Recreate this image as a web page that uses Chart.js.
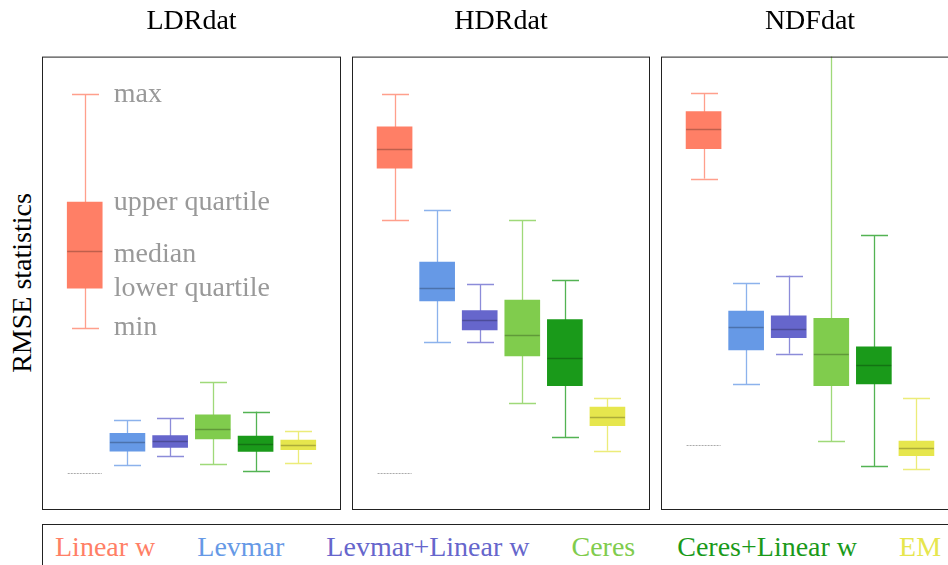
<!DOCTYPE html>
<html>
<head>
<meta charset="utf-8">
<script src="https://cdn.jsdelivr.net/npm/chart.js@4"></script>
<style>
body { margin: 0; width: 948px; height: 565px; overflow: hidden; background: #fff; position: relative; font-family: 'Liberation Serif', serif; }
.panel { position: absolute; top: 0; height: 510px; }
#ylabel { position: absolute; left: 22px; top: 283px; transform: translate(-50%, -50%) rotate(-90deg); font-size: 28px; white-space: nowrap; color: #000; }
#legend { position: absolute; left: 42px; top: 524px; width: 940px; height: 60px; border: 1px solid #222; box-sizing: border-box; display: flex; gap: 42px; padding: 6px 0 0 12px; font-size: 28px; line-height: 32px; white-space: nowrap; }
</style>
</head>
<body>
<div id="ylabel">RMSE statistics</div>
<div class="panel" style="left:42px;width:299px"><canvas id="c0"></canvas></div>
<div class="panel" style="left:352px;width:298px"><canvas id="c1"></canvas></div>
<div class="panel" style="left:661px;width:298px"><canvas id="c2"></canvas></div>
<div id="legend"></div>
<script>
// methods and colours
const methods = ['Linear w', 'Levmar', 'Levmar+Linear w', 'Ceres', 'Ceres+Linear w', 'EM'];
const colors = ['#ff7f66', '#6699e6', '#6666cc', '#80cc4d', '#1a9a1a', '#e6e64d'];
const panelNames = ['LDRdat', 'HDRdat', 'NDFdat'];
const annotationLabels = ['max', 'upper quartile', 'median', 'lower quartile', 'min'];

// LDRdat
const ldrMin = [0.402, 0.099, 0.118, 0.101, 0.086, 0.103];
const ldrQ1  = [0.489, 0.130, 0.138, 0.157, 0.129, 0.133];
const ldrMed = [0.571, 0.151, 0.153, 0.178, 0.146, 0.144];
const ldrQ3  = [0.679, 0.169, 0.164, 0.210, 0.163, 0.154];
const ldrMax = [0.917, 0.198, 0.202, 0.283, 0.217, 0.175];
// HDRdat
const hdrMin = [0.640, 0.371, 0.371, 0.236, 0.161, 0.131];
const hdrQ1  = [0.754, 0.461, 0.397, 0.340, 0.274, 0.186];
const hdrMed = [0.797, 0.489, 0.419, 0.386, 0.335, 0.205];
const hdrQ3  = [0.845, 0.547, 0.440, 0.463, 0.420, 0.227];
const hdrMax = [0.917, 0.661, 0.499, 0.640, 0.508, 0.247];
// NDFdat
const ndfMin = [0.731, 0.277, 0.345, 0.152, 0.097, 0.091];
const ndfQ1  = [0.797, 0.353, 0.380, 0.274, 0.278, 0.120];
const ndfMed = [0.841, 0.403, 0.400, 0.344, 0.319, 0.136];
const ndfQ3  = [0.879, 0.439, 0.428, 0.423, 0.360, 0.152];
const ndfMax = [0.920, 0.501, 0.517, 1.200, 0.606, 0.246];
// small grey mark under Linear w in each panel
const floorMark = [0.082, 0.082, 0.144];

const stats = [
    { min: ldrMin, q1: ldrQ1, med: ldrMed, q3: ldrQ3, max: ldrMax },
    { min: hdrMin, q1: hdrQ1, med: hdrMed, q3: hdrQ3, max: hdrMax },
    { min: ndfMin, q1: ndfQ1, med: ndfMed, q3: ndfQ3, max: ndfMax }
];

const boxPlugin = {
    id: 'boxes',
    beforeDatasetsDraw(chart) {
        const s = chart.options.plugins.boxes;
        const { ctx, chartArea: a, scales: { x, y } } = chart;
        ctx.save();
        ctx.beginPath();
        ctx.rect(a.left, a.top, a.width, a.height);
        ctx.clip();
        ctx.lineWidth = 1.3;
        methods.forEach((m, i) => {
            const px = Math.round(x.getPixelForValue(i + 1)) + 0.5;
            ctx.strokeStyle = colors[i] + 'c0';
            ctx.beginPath();
            ctx.moveTo(px, y.getPixelForValue(s.data.min[i]));
            ctx.lineTo(px, y.getPixelForValue(s.data.max[i]));
            [s.data.min[i], s.data.max[i]].forEach(v => {
                const py = Math.round(y.getPixelForValue(v)) + 0.5;
                ctx.moveTo(px - 13.5, py);
                ctx.lineTo(px + 13.5, py);
            });
            ctx.stroke();
        });
        // grey flat mark
        const fx = x.getPixelForValue(1);
        const fy = Math.round(y.getPixelForValue(s.floor)) + 0.5;
        ctx.strokeStyle = '#aaa';
        ctx.lineWidth = 1.2;
        ctx.setLineDash([2, 1]);
        ctx.beginPath();
        ctx.moveTo(fx - 17, fy);
        ctx.lineTo(fx + 17, fy);
        ctx.stroke();
        ctx.restore();
    },
    afterDatasetsDraw(chart) {
        const s = chart.options.plugins.boxes;
        const { ctx, chartArea: a, scales: { x, y } } = chart;
        ctx.save();
        ctx.lineWidth = 1.3;
        ctx.strokeStyle = 'rgba(0,0,0,0.25)';
        methods.forEach((m, i) => {
            const px = x.getPixelForValue(i + 1);
            const py = Math.round(y.getPixelForValue(s.data.med[i])) + 0.5;
            ctx.beginPath();
            ctx.moveTo(px - 17.5, py);
            ctx.lineTo(px + 17.5, py);
            ctx.stroke();
        });
        // frame
        ctx.strokeStyle = '#222';
        ctx.lineWidth = 1;
        ctx.strokeRect(a.left + 0.5, a.top + 0.5, a.width - 1, a.height - 1);
        // explanation labels in the first panel
        if (s.annotate) {
            const d = s.data;
            const vals = [d.max[0], d.q3[0], d.med[0], d.q1[0], d.min[0]];
            ctx.fillStyle = '#999';
            ctx.font = '28px "Liberation Serif"';
            ctx.textBaseline = 'middle';
            vals.forEach((v, k) => {
                ctx.fillText(annotationLabels[k], x.getPixelForValue(1) + 29, y.getPixelForValue(v) + (k === 2 ? 4 : 0));
            });
        }
        ctx.restore();
    }
};

panelNames.forEach((name, p) => {
    const d = stats[p];
    new Chart(document.getElementById('c' + p), {
        type: 'bar',
        data: {
            datasets: [{
                data: methods.map((m, i) => ({ x: i + 1, y: [d.q1[i], d.q3[i]] })),
                backgroundColor: colors,
                borderWidth: 0,
                barThickness: 35,
                grouped: false
            }]
        },
        options: {
            responsive: true,
            maintainAspectRatio: false,
            animation: false,
            devicePixelRatio: 1,
            layout: { padding: 0 },
            scales: {
                x: { type: 'linear', min: 0, max: 7, offset: false, display: false },
                y: { min: 0, max: 1, display: false }
            },
            plugins: {
                legend: { display: false },
                tooltip: { enabled: false },
                title: {
                    display: true,
                    text: name,
                    color: '#000',
                    font: { family: 'Liberation Serif', size: 28, weight: 'normal' },
                    padding: { top: 5, bottom: 18 }
                },
                boxes: { data: d, floor: floorMark[p], annotate: p === 0 }
            }
        },
        plugins: [boxPlugin]
    });
});

const legend = document.getElementById('legend');
methods.forEach((m, i) => {
    const span = document.createElement('span');
    span.textContent = m;
    span.style.color = colors[i];
    legend.appendChild(span);
});
</script>
</body>
</html>
